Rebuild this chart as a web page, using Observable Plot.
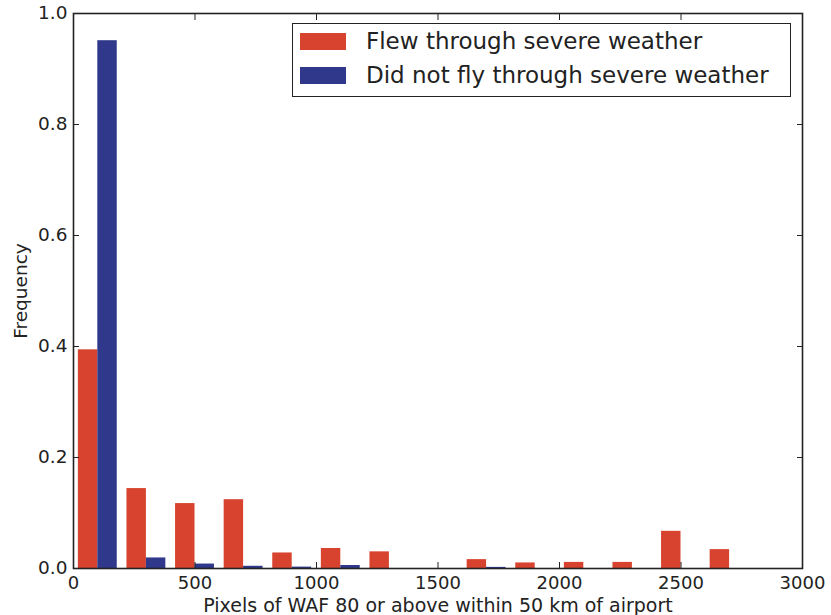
<!DOCTYPE html>
<html>
<head>
<meta charset="utf-8">
<script src="https://cdn.jsdelivr.net/npm/d3@7"></script>
<script src="https://cdn.jsdelivr.net/npm/@observablehq/plot@0.6"></script>
<style>
  html, body { margin: 0; padding: 0; background: #fff; }
  #chart { position: relative; width: 831px; height: 615px; font-family: "DejaVu Sans", sans-serif; }
  #legend {
    position: absolute; left: 292px; top: 23px; width: 499px; height: 74px;
    border: 1.5px solid #222; background: #fff; box-sizing: border-box;
    font-size: 23px; color: #222;
  }
  #legend .row { position: absolute; left: 7px; display: flex; align-items: center; line-height: 27px; }
  #legend .sw { width: 46px; height: 17px; margin-right: 20px; }
</style>
</head>
<body>
<div id="chart"></div>
<script>
// Histogram bins (left edges) and bin width, in pixels of WAF 80+
const binStarts = [0, 200, 400, 600, 800, 1000, 1200, 1400, 1600, 1800, 2000, 2200, 2400, 2600];
const binWidth = 200;

// Normalised frequencies per bin
const flewThrough = [0.394, 0.144, 0.117, 0.124, 0.028, 0.036, 0.030, 0, 0.016, 0.010, 0.011, 0.011, 0.067, 0.034];
const didNotFly   = [0.951, 0.019, 0.008, 0.004, 0.0025, 0.0054, 0, 0, 0.002, 0, 0, 0, 0, 0];

const seriesNames = ["Flew through severe weather", "Did not fly through severe weather"];
const seriesColors = ["#d8432f", "#2f388a"];

const xTicks = [0, 500, 1000, 1500, 2000, 2500, 3000];
const yTicks = [0, 0.2, 0.4, 0.6, 0.8, 1.0];

// Side-by-side bars: each series takes 40% of the bin, with a 10% gap at each edge
const bars = [];
binStarts.forEach((x0, i) => {
  bars.push({series: 0, x1: x0 + 0.1 * binWidth, x2: x0 + 0.5 * binWidth, y: flewThrough[i]});
  bars.push({series: 1, x1: x0 + 0.5 * binWidth, x2: x0 + 0.9 * binWidth, y: didNotFly[i]});
});

const tickLen = 6;
const noLabel = () => "";
const chart = Plot.plot({
  width: 831,
  height: 615,
  marginLeft: 73,
  marginRight: 29,
  marginTop: 13,
  marginBottom: 47,
  style: {fontFamily: "DejaVu Sans, sans-serif", background: "#fff", color: "#222"},
  x: {type: "linear", domain: [0, 3000]},
  y: {type: "linear", domain: [0, 1]},
  marks: [
    Plot.rectY(bars.filter(d => d.y > 0), {
      x1: "x1", x2: "x2", y1: 0, y2: "y",
      fill: d => seriesColors[d.series]
    }),
    // inward ticks on all four sides
    Plot.axisX(xTicks, {anchor: "bottom", tickSize: -tickLen, tickPadding: 14, fontSize: 18, label: null, tickFormat: d => String(d), stroke: "#222"}),
    Plot.axisX(xTicks, {anchor: "top", tickSize: -tickLen, tickFormat: noLabel, label: null, stroke: "#222"}),
    Plot.axisY(yTicks, {anchor: "left", tickSize: -tickLen, tickPadding: 12, fontSize: 18.5, label: null, tickFormat: d3.format(".1f"), stroke: "#222"}),
    Plot.axisY(yTicks, {anchor: "right", tickSize: -tickLen, tickFormat: noLabel, label: null, stroke: "#222"}),
    Plot.frame({stroke: "#222", strokeWidth: 1.6}),
    Plot.text(["Pixels of WAF 80 or above within 50 km of airport"], {
      frameAnchor: "bottom", dy: 43, fontSize: 19, fill: "#222", lineAnchor: "bottom"
    }),
    Plot.text(["Frequency"], {
      frameAnchor: "left", textAnchor: "middle", dx: -52, rotate: -90, fontSize: 18.5, fill: "#222"
    })
  ]
});
document.getElementById("chart").appendChild(chart);

// Legend box
const legend = document.createElement("div");
legend.id = "legend";
seriesNames.forEach((name, i) => {
  const row = document.createElement("div");
  row.className = "row";
  row.style.top = (i === 0 ? 4 : 38) + "px";
  const sw = document.createElement("span");
  sw.className = "sw";
  sw.style.background = seriesColors[i];
  const label = document.createElement("span");
  label.textContent = name;
  row.appendChild(sw);
  row.appendChild(label);
  legend.appendChild(row);
});
document.getElementById("chart").appendChild(legend);
</script>
</body>
</html>
